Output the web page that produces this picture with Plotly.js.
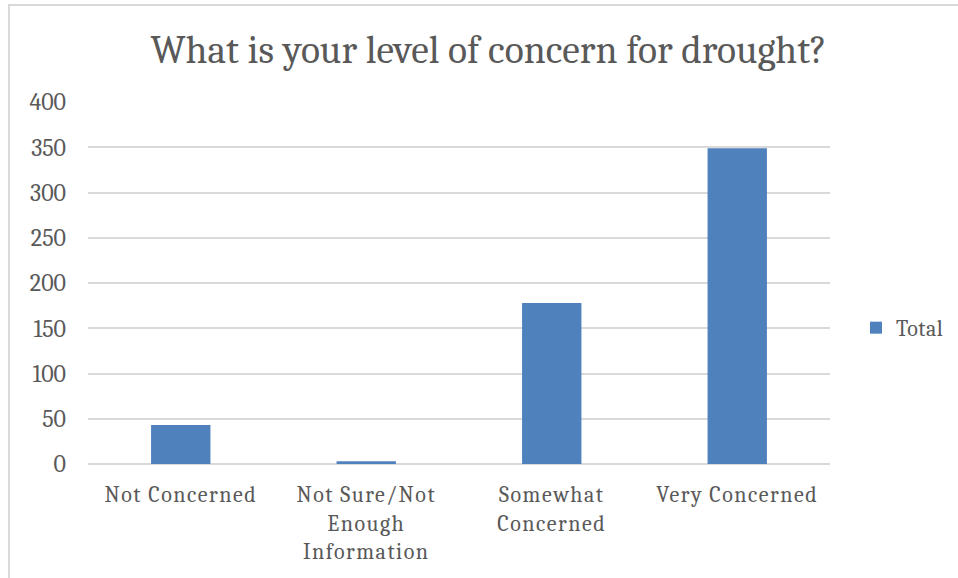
<!DOCTYPE html>
<html>
<head>
<meta charset="utf-8">
<script src="https://cdn.plot.ly/plotly-3.0.1.min.js"></script>
<style>
  html, body { margin: 0; padding: 0; background: #ffffff; }
  #chart { width: 958px; height: 578px; }
  /* category labels are set a little looser than the default tracking */
  #chart .xtick text { letter-spacing: 1.5px; }
  #chart .legendtext { letter-spacing: 0.5px; }
</style>
</head>
<body>
<div id="chart"></div>
<script>
// Survey responses: level of concern for drought
const categories = ["Not Concerned", "Not Sure/Not<br>Enough<br>Information", "Somewhat<br>Concerned", "Very Concerned"];
const totals = [43, 3, 178, 349];
const yTicks = [0, 50, 100, 150, 200, 250, 300, 350, 400];

const serif = "Cambria, 'DejaVu Serif', serif";
const textGray = "#595959";

const trace = {
  type: "bar",
  name: "Total",
  x: categories,
  y: totals,
  marker: { color: "#4f81bd", line: { width: 0 } },
  hoverinfo: "x+y"
};

const layout = {
  width: 958,
  height: 578,
  margin: { l: 88, r: 128, t: 102, b: 114, autoexpand: false },
  paper_bgcolor: "#ffffff",
  plot_bgcolor: "#ffffff",
  title: {
    text: "What is your level of concern for drought?",
    font: { family: serif, size: 39.5, color: textGray },
    x: 0.51,
    xanchor: "center",
    y: 0.915,
    yanchor: "middle"
  },
  bargap: 0.68,
  showlegend: true,
  legend: {
    x: 1.035,
    xanchor: "left",
    y: 0.376,
    yanchor: "middle",
    font: { family: serif, size: 22, color: textGray },
    itemwidth: 30
  },
  xaxis: {
    type: "category",
    showgrid: false,
    showline: false,
    zeroline: false,
    ticks: "",
    ticklabelstandoff: 15,
    tickfont: { family: serif, size: 22, color: textGray },
    fixedrange: true
  },
  yaxis: {
    range: [0, 400],
    tickvals: yTicks,
    ticktext: yTicks.map(String),
    showgrid: true,
    gridcolor: "#d9d9d9",
    gridwidth: 1.5,
    zeroline: true,
    zerolinecolor: "#d9d9d9",
    zerolinewidth: 1.5,
    showline: false,
    ticks: "",
    ticklabelstandoff: 21,
    tickfont: { family: serif, size: 24, color: textGray },
    fixedrange: true
  },
  shapes: [{
    type: "rect",
    xref: "paper",
    yref: "paper",
    x0: -0.1065, x1: 2,
    y0: -2, y1: 1.268,
    line: { color: "#d9d9d9", width: 2 },
    fillcolor: "rgba(0,0,0,0)",
    layer: "below"
  }]
};

Plotly.newPlot("chart", [trace], layout, { displayModeBar: false, responsive: false });
</script>
</body>
</html>
